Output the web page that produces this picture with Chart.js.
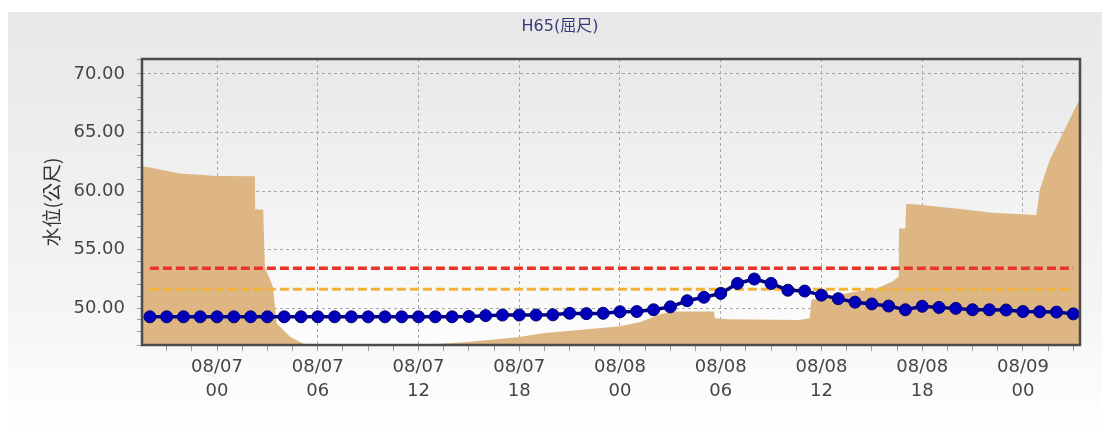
<!DOCTYPE html>
<html>
<head>
<meta charset="utf-8">
<script src="https://cdn.jsdelivr.net/npm/chart.js@4.4.1/dist/chart.umd.min.js"></script>
<style>
  html, body { margin: 0; padding: 0; background: #fff; }
  #wrap { width: 1102px; height: 434px; }
</style>
</head>
<body>
<div id="wrap"><canvas id="chart" width="1102" height="434"></canvas></div>
<script>
// ===== data (hours counted from 08/07 00:00) =====
const hours = [
  -4, -3, -2, -1, 0, 1, 2, 3, 4, 5, 6, 7, 8, 9, 10, 11, 12, 13, 14, 15,
  16, 17, 18, 19, 20, 21, 22, 23, 24, 25, 26, 27, 28, 29, 30, 31, 32, 33,
  34, 35, 36, 37, 38, 39, 40, 41, 42, 43, 44, 45, 46, 47, 48, 49, 50, 51
];
const levels = [
  49.25, 49.25, 49.25, 49.25, 49.25, 49.25, 49.25, 49.25, 49.25, 49.25,
  49.25, 49.25, 49.25, 49.25, 49.25, 49.25, 49.25, 49.25, 49.25, 49.28,
  49.35, 49.40, 49.40, 49.40, 49.42, 49.55, 49.52, 49.55, 49.68, 49.70,
  49.85, 50.10, 50.62, 50.92, 51.25, 52.10, 52.48, 52.10, 51.52, 51.45,
  51.10, 50.80, 50.50, 50.35, 50.17, 49.85, 50.15, 50.05, 49.97, 49.85,
  49.85, 49.83, 49.70, 49.68, 49.65, 49.50
];

// background area series (same hour axis, finer steps)
const areaHours = [
  -4.5, -4.0, -2.2, 0, 2.25, 2.27, 2.75, 2.85, 3.33, 3.55, 4.35, 5.1, 6.0,
  9.0, 12.2, 14.9, 17.9, 19.4, 24.0, 25.2, 26.5, 27.2, 29.6, 29.65, 30.4,
  34.7, 35.3, 35.4, 37.5, 39.3, 40.2, 40.6, 40.62, 41.0, 41.05, 42.0, 44.0,
  46.2, 48.8, 49.0, 49.6, 51.25, 51.5
];
const areaLevels = [
  62.1, 62.0, 61.5, 61.28, 61.25, 58.45, 58.4, 53.5, 51.8, 48.7, 47.55, 47.0, 46.6,
  46.5, 46.84, 47.1, 47.5, 47.84, 48.45, 48.8, 49.5, 49.7, 49.7, 49.12, 49.03,
  48.97, 49.12, 50.7, 51.26, 51.68, 52.25, 52.68, 56.8, 56.8, 58.9, 58.8, 58.5,
  58.15, 57.95, 60.1, 62.65, 67.5, 68.0
];

const warnLevel = 53.4;
const alertLevel = 51.6;

const yMin = 46.84, yMax = 71.28;
const xMin = -4.47, xMax = 51.4;

// ===== helpers =====
const isSixHour = (v) => ((Math.round(v * 10) % 60) + 60) % 60 === 0;
const pad = (n) => String(n).padStart(2, '0');
function hourLabel(h) {
  const day = 7 + Math.floor(h / 24);
  const hh = ((h % 24) + 24) % 24;
  return ['08/' + pad(day), pad(hh)];
}

const tickFont = { family: "'DejaVu Sans', sans-serif", size: 18, lineHeight: 1.3 };
const gridColor = '#a8a8a8';
const none = 'rgba(0,0,0,0)';

const backdrop = {
  id: 'backdrop',
  beforeDraw(chart) {
    const { ctx, chartArea: a, width, height } = chart;
    ctx.save();
    let g = ctx.createLinearGradient(0, 12, 0, height);
    g.addColorStop(0, '#e8e8e8');
    g.addColorStop(0.7, '#f5f5f5');
    g.addColorStop(1, '#ffffff');
    ctx.fillStyle = g;
    ctx.fillRect(8, 12, width - 8, height - 12);
    g = ctx.createLinearGradient(0, a.top, 0, a.bottom);
    g.addColorStop(0, '#e8e8e8');
    g.addColorStop(1, '#fdfdfd');
    ctx.fillStyle = g;
    ctx.fillRect(a.left, a.top, a.right - a.left, a.bottom - a.top);
    ctx.restore();
  },
  afterDatasetsDraw(chart) {
    const { ctx, chartArea: a } = chart;
    ctx.save();
    ctx.strokeStyle = '#4b4b4b';
    ctx.lineWidth = 2.5;
    ctx.strokeRect(a.left, a.top, a.right - a.left, a.bottom - a.top);
    ctx.restore();
  }
};

new Chart(document.getElementById('chart'), {
  type: 'line',
  data: {
    datasets: [
      {
        label: '水位',
        data: hours.map((h, i) => ({ x: h, y: levels[i] })),
        borderColor: '#00008b',
        borderWidth: 3.5,
        pointRadius: 6,
        pointBackgroundColor: '#0000bb',
        pointBorderColor: '#000070',
        pointBorderWidth: 1,
        order: 0
      },
      {
        label: '警戒',
        data: [{ x: hours[0], y: warnLevel }, { x: hours[hours.length - 1], y: warnLevel }],
        borderColor: '#e8352b',
        borderWidth: 3.5,
        borderDash: [9, 4],
        pointRadius: 0,
        order: 1
      },
      {
        label: '注意',
        data: [{ x: hours[0], y: alertLevel }, { x: hours[hours.length - 1], y: alertLevel }],
        borderColor: '#f2b23a',
        borderWidth: 3,
        borderDash: [9, 4],
        pointRadius: 0,
        order: 2
      },
      {
        label: '區域',
        data: areaHours.map((h, i) => ({ x: h, y: areaLevels[i] })),
        fill: 'start',
        backgroundColor: '#ddb683',
        borderWidth: 0,
        pointRadius: 0,
        order: 3
      }
    ]
  },
  options: {
    responsive: false,
    animation: false,
    events: [],
    layout: { padding: { left: 40, right: 22, top: 0, bottom: 0 } },
    plugins: {
      legend: { display: false },
      tooltip: { enabled: false },
      title: {
        display: true,
        text: 'H65(屈尺)',
        color: '#3a3a7c',
        font: { family: "'DejaVu Sans', 'Noto Sans CJK TC'", size: 16, weight: 'normal', lineHeight: 1.25 },
        padding: { top: 17, bottom: 22 }
      }
    },
    scales: {
      x: {
        type: 'linear',
        min: xMin,
        max: xMax,
        afterFit: (s) => { s.height = 89; },
        ticks: {
          stepSize: 1.5,
          includeBounds: false,
          autoSkip: false,
          maxRotation: 0,
          padding: 5,
          color: '#454545',
          font: tickFont,
          callback: (v) => isSixHour(v) ? hourLabel(v) : ''
        },
        grid: {
          color: (c) => c.tick && isSixHour(c.tick.value) ? gridColor : none,
          tickColor: '#9a9a9a',
          tickLength: 6,
          lineWidth: 1
        },
        border: { display: false, dash: [3, 3] }
      },
      y: {
        min: yMin,
        max: yMax,
        afterFit: (s) => { s.width = 102; },
        ticks: {
          stepSize: 1,
          autoSkip: false,
          padding: 12,
          color: '#454545',
          font: tickFont,
          callback: (v) => v % 5 === 0 ? v.toFixed(2) : ''
        },
        grid: {
          color: (c) => c.tick && c.tick.value % 5 === 0 ? gridColor : none,
          tickColor: '#9a9a9a',
          tickLength: 5,
          lineWidth: 1
        },
        border: { display: false, dash: [3, 3] },
        title: {
          display: true,
          text: '水位(公尺)',
          color: '#333',
          font: { family: "'Noto Sans CJK TC', 'DejaVu Sans'", size: 19 },
          padding: 0
        }
      }
    }
  },
  plugins: [backdrop]
});
</script>
</body>
</html>
